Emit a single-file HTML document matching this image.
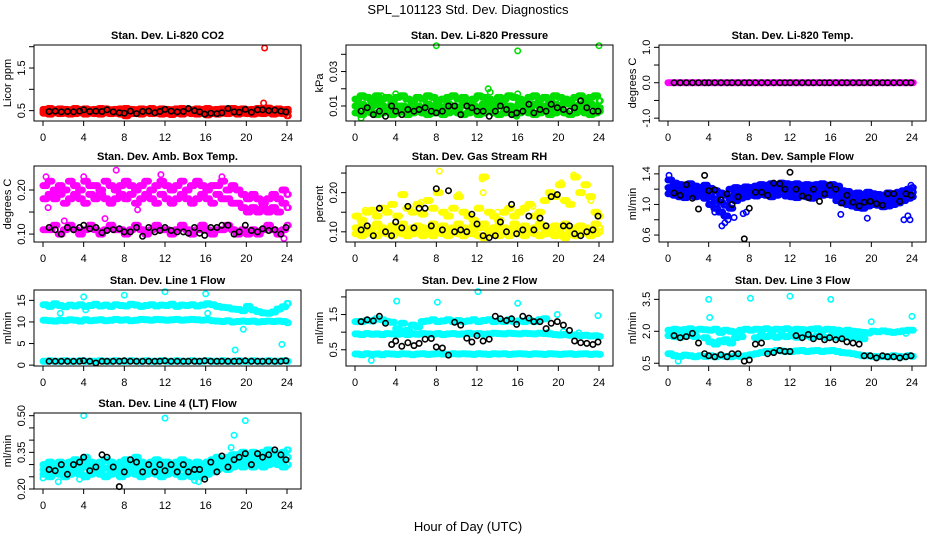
<!DOCTYPE html>
<html><head><meta charset="utf-8"><style>
html,body{margin:0;padding:0;background:#fff;}
svg{display:block;font-family:"Liberation Sans",Arial,sans-serif;}
</style></head><body>
<svg id="chart" width="936" height="540" viewBox="0 0 936 540" xmlns="http://www.w3.org/2000/svg">
<rect width="936" height="540" fill="#fff"/>
<text x="468" y="14" text-anchor="middle" font-size="13">SPL_101123  Std. Dev. Diagnostics</text>
<text x="468" y="531" text-anchor="middle" font-size="13">Hour of Day (UTC)</text>
</svg>
<script>
const T=[0,0.5,1,1.5,2,2.5,3,3.5,4,4.5,5,5.5,6,6.5,7,7.5,8,8.5,9,9.5,10,10.5,11,11.5,12,12.5,13,13.5,14,14.5,15,15.5,16,16.5,17,17.5,18,18.5,19,19.5,20,20.5,21,21.5,22,22.5,23,23.5,24];
const BT=[0.6,1.2,1.8,2.4,3.0,3.6,4.0,4.6,5.2,5.8,6.3,6.9,7.5,8.0,8.6,9.2,9.8,10.4,11.0,11.5,12.0,12.6,13.2,13.8,14.3,14.9,15.4,15.9,16.5,17.1,17.6,18.2,18.8,19.3,19.9,20.5,21.1,21.6,22.2,22.8,23.4,23.9];
const xTicks=[0,4,8,12,16,20,24];

const co2Hi=[0.53,0.55,0.52,0.54,0.53,0.52,0.55,0.53,0.54,0.52,0.53,0.55,0.54,0.52,0.53,0.54,0.55,0.53,0.52,0.54,0.53,0.55,0.52,0.54,0.53,0.52,0.54,0.55,0.53,0.52,0.54,0.53,0.55,0.52,0.53,0.54,0.52,0.55,0.53,0.54,0.52,0.53,0.55,0.54,0.56,0.53,0.54,0.52,0.53];
const co2Mid=[0.48,0.49,0.48,0.47,0.49,0.48,0.47,0.49,0.48,0.48,0.47,0.49,0.48,0.47,0.49,0.48,0.47,0.48,0.49,0.47,0.48,0.49,0.48,0.47,0.48,0.49,0.47,0.48,0.49,0.48,0.47,0.49,0.48,0.47,0.48,0.49,0.48,0.47,0.49,0.48,0.47,0.48,0.49,0.48,0.50,0.48,0.49,0.47,0.48];
const co2Lo=[0.44,0.42,0.45,0.43,0.44,0.42,0.43,0.45,0.42,0.44,0.43,0.42,0.45,0.43,0.44,0.42,0.38,0.43,0.44,0.42,0.45,0.43,0.44,0.42,0.43,0.41,0.44,0.42,0.45,0.43,0.42,0.44,0.40,0.43,0.42,0.44,0.43,0.45,0.42,0.44,0.43,0.42,0.44,0.43,0.45,0.42,0.44,0.43,0.38];
const co2OutX=[21.8,21.7,22.0];
const co2OutY=[1.97,0.68,0.56];
const co2Black=[0.48,0.49,0.47,0.48,0.47,0.49,0.52,0.48,0.49,0.48,0.52,0.47,0.45,0.44,0.49,0.43,0.48,0.49,0.45,0.48,0.53,0.49,0.47,0.48,0.55,0.50,0.47,0.42,0.44,0.43,0.45,0.55,0.47,0.46,0.53,0.46,0.52,0.52,0.50,0.51,0.49,0.47];

const prHi=[0.014,0.016,0.015,0.013,0.016,0.014,0.015,0.013,0.015,0.016,0.014,0.013,0.015,0.014,0.016,0.015,0.013,0.014,0.015,0.016,0.014,0.015,0.013,0.014,0.016,0.015,0.014,0.013,0.015,0.014,0.016,0.015,0.014,0.013,0.015,0.016,0.014,0.015,0.013,0.016,0.015,0.014,0.013,0.015,0.016,0.014,0.015,0.016,0.013];
const prMid=[0.010,0.011,0.009,0.010,0.011,0.010,0.009,0.011,0.010,0.010,0.009,0.011,0.010,0.009,0.011,0.010,0.010,0.009,0.011,0.010,0.009,0.011,0.010,0.010,0.009,0.011,0.010,0.009,0.011,0.010,0.010,0.009,0.011,0.010,0.009,0.011,0.010,0.010,0.009,0.011,0.010,0.012,0.011,0.010,0.011,0.010,0.011,0.010,0.009];
const prLo=[0.006,0.005,0.007,0.006,0.005,0.006,0.007,0.005,0.006,0.007,0.005,0.006,0.007,0.006,0.005,0.006,0.007,0.005,0.006,0.007,0.006,0.005,0.006,0.007,0.005,0.006,0.007,0.006,0.005,0.006,0.007,0.005,0.006,0.007,0.006,0.005,0.006,0.007,0.005,0.006,0.007,0.006,0.005,0.006,0.007,0.006,0.005,0.006,0.007];
const prOutX=[8,16,24,13.1,13.3,4,16,0.6,2.6,15.9];
const prOutY=[0.045,0.042,0.045,0.020,0.018,0.017,0.017,0.003,0.016,0.004];
const prBlack=[0.007,0.009,0.005,0.007,0.004,0.010,0.007,0.005,0.008,0.007,0.008,0.009,0.007,0.006,0.007,0.010,0.010,0.005,0.010,0.009,0.007,0.007,0.004,0.007,0.010,0.008,0.005,0.006,0.007,0.011,0.006,0.008,0.007,0.011,0.009,0.008,0.007,0.009,0.013,0.009,0.007,0.007];

const tpMag=[0,0,0,0,0,0,0,0,0,0,0,0,0,0,0,0,0,0,0,0,0,0,0,0,0,0,0,0,0,0,0,0,0,0,0,0,0,0,0,0,0,0,0,0,0,0,0,0,0];
const tpBlack=[0,0,0,0,0,0,0,0,0,0,0,0,0,0,0,0,0,0,0,0,0,0,0,0,0,0,0,0,0,0,0,0,0,0,0,0,0,0,0,0,0,0];

const abHi=[0.21,0.22,0.20,0.21,0.20,0.22,0.21,0.20,0.22,0.21,0.21,0.20,0.22,0.21,0.20,0.21,0.22,0.21,0.20,0.21,0.22,0.20,0.21,0.22,0.21,0.20,0.21,0.22,0.20,0.21,0.22,0.21,0.20,0.21,0.21,0.22,0.20,0.21,0.20,0.19,0.18,0.19,0.18,0.17,0.18,0.19,0.18,0.20,0.19];
const abMid=[0.18,0.19,0.18,0.19,0.17,0.18,0.19,0.18,0.17,0.19,0.18,0.19,0.18,0.17,0.18,0.19,0.18,0.19,0.17,0.18,0.19,0.18,0.17,0.19,0.18,0.17,0.18,0.19,0.18,0.17,0.18,0.19,0.18,0.17,0.19,0.18,0.18,0.17,0.17,0.16,0.15,0.16,0.15,0.16,0.15,0.16,0.15,0.17,0.16];
const abLo=[0.11,0.11,0.12,0.10,0.11,0.12,0.11,0.10,0.11,0.12,0.11,0.10,0.11,0.12,0.11,0.11,0.10,0.11,0.12,0.11,0.10,0.11,0.12,0.11,0.11,0.10,0.11,0.12,0.11,0.10,0.11,0.12,0.11,0.10,0.11,0.11,0.12,0.11,0.10,0.11,0.10,0.11,0.10,0.11,0.12,0.11,0.10,0.11,0.12];
const abOutX=[0.3,0.5,4.0,11.6,7.2,17.6,23.7,9.3,6.1,2.1];
const abOutY=[0.23,0.16,0.23,0.235,0.245,0.23,0.09,0.155,0.135,0.13];
const abBlack=[0.115,0.11,0.10,0.115,0.11,0.115,0.12,0.112,0.115,0.103,0.108,0.11,0.112,0.105,0.105,0.115,0.095,0.115,0.105,0.108,0.115,0.108,0.105,0.105,0.102,0.115,0.102,0.097,0.115,0.115,0.12,0.12,0.10,0.105,0.12,0.108,0.105,0.112,0.108,0.11,0.10,0.115];

const rhLo=[0.095,0.09,0.10,0.095,0.09,0.1,0.095,0.09,0.1,0.095,0.09,0.095,0.1,0.09,0.095,0.09,0.1,0.095,0.09,0.1,0.095,0.09,0.1,0.095,0.09,0.085,0.095,0.1,0.09,0.095,0.09,0.1,0.095,0.09,0.1,0.095,0.09,0.095,0.1,0.09,0.095,0.085,0.1,0.09,0.095,0.1,0.09,0.095,0.1];
const rhMid=[0.11,0.115,0.105,0.11,0.12,0.11,0.105,0.115,0.11,0.12,0.105,0.11,0.115,0.11,0.105,0.12,0.11,0.115,0.105,0.11,0.12,0.11,0.105,0.115,0.11,0.12,0.105,0.11,0.115,0.11,0.105,0.12,0.11,0.115,0.105,0.11,0.12,0.11,0.105,0.115,0.11,0.12,0.105,0.11,0.115,0.11,0.105,0.12,0.11];
const rhHi=[0.14,0.13,0.15,0.155,0.14,0.16,0.15,0.17,0.14,0.195,0.16,0.15,0.17,0.145,0.18,0.16,0.2,0.15,0.14,0.16,0.19,0.15,0.14,0.13,0.16,0.24,0.15,0.14,0.13,0.15,0.16,0.14,0.15,0.16,0.17,0.14,0.15,0.18,0.2,0.19,0.22,0.18,0.17,0.24,0.2,0.22,0.19,0.15,0.14];
const rhOutX=[8.3,12.5,12.6,21.5,23.2,10.2,4.9,20.3,1.0,3.0,6.5,14.0,17.5];
const rhOutY=[0.255,0.235,0.2,0.245,0.18,0.195,0.195,0.225,0.155,0.16,0.175,0.15,0.165];
const rhBlack=[0.105,0.115,0.09,0.16,0.10,0.09,0.125,0.11,0.165,0.11,0.16,0.16,0.115,0.21,0.105,0.205,0.10,0.105,0.10,0.145,0.12,0.09,0.085,0.09,0.125,0.10,0.17,0.095,0.105,0.14,0.105,0.135,0.115,0.19,0.195,0.115,0.115,0.095,0.09,0.10,0.105,0.14];

const sfHi=[1.32,1.28,1.26,1.25,1.27,1.24,1.22,1.25,1.21,1.18,1.15,1.12,1.20,1.22,1.21,1.23,1.22,1.24,1.26,1.25,1.27,1.26,1.28,1.27,1.26,1.27,1.25,1.26,1.25,1.26,1.27,1.25,1.26,1.24,1.18,1.17,1.14,1.15,1.13,1.16,1.14,1.13,1.12,1.15,1.14,1.16,1.18,1.20,1.22];
const sfMid=[1.22,1.20,1.18,1.17,1.19,1.17,1.16,1.16,1.10,1.07,1.03,0.99,1.07,1.13,1.15,1.16,1.17,1.18,1.19,1.18,1.19,1.19,1.21,1.19,1.18,1.18,1.18,1.18,1.17,1.18,1.19,1.19,1.19,1.14,1.10,1.09,1.06,1.06,1.04,1.07,1.07,1.06,1.05,1.06,1.07,1.09,1.11,1.14,1.16];
const sfLo=[1.14,1.12,1.10,1.09,1.12,1.10,1.11,1.08,1.00,0.95,0.90,0.85,0.95,1.05,1.08,1.10,1.12,1.11,1.13,1.12,1.10,1.12,1.14,1.11,1.10,1.09,1.11,1.10,1.08,1.11,1.12,1.13,1.12,1.05,1.02,1.00,0.98,0.96,0.95,0.98,1.00,0.99,0.97,0.98,1.00,1.02,1.05,1.08,1.10];
const sfOutX=[5.3,5.6,5.9,6.5,7.4,7.7,19.6,23.2,23.6,23.8,17,4.6,23.9,0.1];
const sfOutY=[0.72,0.76,0.80,0.83,0.88,0.90,0.82,0.80,0.85,0.80,0.87,0.90,1.25,1.38];
const sfBlack=[1.15,1.12,1.26,1.08,0.94,1.38,1.18,1.19,1.06,1.14,1.0,1.1,0.55,0.95,1.16,1.16,1.12,1.28,1.27,1.2,1.42,1.2,1.11,1.09,1.2,1.04,1.14,1.25,1.2,1.02,1.12,1.03,0.98,1.03,1.04,1.01,0.99,1.14,1.14,1.04,1.14,1.12];

const l1Hi=[14.0,13.6,14.2,13.8,13.5,13.9,13.7,14.0,13.6,13.8,14.1,13.7,13.9,13.6,14.0,13.8,13.7,14.1,13.9,13.6,13.8,14.0,13.7,13.9,13.8,14.1,13.6,13.9,13.8,14.0,13.7,13.9,14.2,14.0,13.6,13.4,13.3,13.0,12.9,12.6,13.6,12.8,12.4,12.1,12.0,12.3,13.0,13.5,14.3];
const l1Mid=[10.4,10.3,10.2,10.4,10.3,10.5,10.4,10.2,10.5,10.3,10.4,10.5,10.3,10.4,10.6,10.4,10.5,10.3,10.4,10.6,10.5,10.4,10.6,10.5,10.4,10.5,10.6,10.4,10.5,10.6,10.5,10.4,10.5,10.3,10.2,10.1,10.3,10.0,10.1,10.2,10.1,10.2,10.0,10.1,10.2,10.1,10.2,10.1,9.8];
const l1Lo=[0.9,1.0,0.9,0.9,1.0,0.9,0.9,1.0,0.9,0.9,0.9,1.0,0.9,0.9,1.0,0.9,0.9,1.0,0.9,0.9,1.0,0.9,0.9,1.0,0.9,0.9,1.0,0.9,0.9,1.0,0.9,0.9,1.0,0.9,0.9,1.0,0.9,0.9,1.0,0.9,0.9,1.0,0.9,0.9,1.0,0.9,0.9,1.0,0.9];
const l1OutX=[1.7,4,4.2,8,12,16,16.2,18.9,19.7,23.5];
const l1OutY=[12,15.8,12.8,16.2,17,16.5,12,3.5,8.3,4.8];
const l1Black=[0.9,0.9,0.9,0.9,0.9,0.9,1.0,0.9,0.5,0.9,0.9,0.9,0.9,1.0,0.9,0.9,0.9,0.9,0.9,0.9,1.0,0.9,0.9,0.9,0.9,0.9,0.9,1.0,0.9,0.9,0.9,0.9,0.9,0.9,1.0,0.9,0.9,0.9,0.9,0.9,0.9,1.0];

const l2Hi=[1.3,1.3,1.33,1.32,1.38,1.35,1.3,1.28,1.1,1.25,1.05,1.2,1.15,1.3,1.32,1.35,1.3,1.32,1.35,1.3,1.33,1.3,1.32,1.35,1.3,1.33,1.35,1.3,1.32,1.3,1.35,1.3,1.32,1.3,1.33,1.3,1.35,1.38,null,null,null,null,null,null,null,null,null,null,null];
const l2Mid=[0.95,0.93,0.96,0.94,0.95,0.93,0.96,0.95,0.94,0.96,0.93,0.95,0.94,0.96,0.95,0.94,0.96,0.93,0.95,0.96,0.94,0.95,0.97,0.95,0.96,0.94,0.95,0.97,0.96,0.95,0.97,0.96,0.95,0.97,0.96,0.95,0.97,0.96,0.95,0.93,0.92,0.93,0.91,0.92,0.90,0.91,0.89,0.90,0.88];
const l2Lo=[0.38,0.36,0.39,0.37,0.38,0.36,0.39,0.38,0.37,0.39,0.38,0.36,0.38,0.39,0.37,0.38,0.39,0.38,0.37,0.39,0.38,0.39,0.38,0.37,0.39,0.38,0.37,0.39,0.38,0.39,0.37,0.38,0.39,0.38,0.37,0.39,0.38,0.37,0.39,0.38,0.37,0.38,0.39,0.37,0.38,0.39,0.37,0.38,0.37];
const l2OutX=[4.1,8.1,16,19.9,23.9,1.6,12.1,19.0,20.5,22.0];
const l2OutY=[1.88,1.85,1.82,1.5,1.47,0.2,2.15,1.0,1.02,0.98];
const l2Black=[1.3,1.35,1.32,1.45,1.25,0.65,0.75,0.6,0.7,0.62,0.68,0.8,0.82,0.58,0.55,0.35,1.28,1.2,0.83,0.72,0.9,0.75,0.8,1.45,1.38,1.33,1.38,1.22,1.45,1.4,1.3,1.3,1.1,1.25,1.3,1.2,1.05,0.75,0.7,0.68,0.65,0.72];

const l3Hi=[2.05,2.1,2.05,2.08,2.12,2.05,2.1,2.07,2.05,2.1,1.95,2.05,2.0,1.95,2.05,2.1,2.05,2.1,2.08,2.12,2.05,2.1,2.08,2.12,2.05,2.1,2.08,2.05,2.1,2.12,2.05,2.1,2.08,2.05,2.0,2.05,2.0,1.98,1.95,1.92,2.0,1.98,2.02,1.98,1.95,1.98,2.02,2.05,2.05];
const l3Mid=[1.8,1.75,1.72,1.78,1.8,1.75,null,1.7,1.5,1.4,1.55,1.6,1.45,1.7,1.75,null,null,1.7,1.78,1.75,1.8,1.72,1.78,1.75,1.8,1.72,1.75,1.8,1.72,1.78,1.75,1.7,1.78,1.72,1.7,1.75,1.7,1.72,1.65,null,null,null,null,null,null,null,null,null,null];
const l3Lo=[0.95,0.85,0.82,0.88,0.85,0.8,0.85,0.82,0.85,0.8,0.85,0.82,0.8,0.85,0.82,0.85,0.9,0.95,1.0,1.05,1.05,1.1,1.08,1.05,1.05,1.08,1.1,1.05,1.08,1.1,1.05,1.08,1.1,1.05,1.0,0.98,0.95,0.9,0.85,0.85,0.82,0.8,0.82,0.8,0.85,0.82,0.8,0.85,0.82];
const l3OutX=[4,4.1,8.1,12,16,20,24,1,5.5,23.4];
const l3OutY=[3.5,2.65,3.55,3.65,3.5,2.45,2.7,0.6,1.5,1.9];
const l3Black=[1.8,1.7,1.75,1.9,1.45,0.95,0.85,0.8,0.9,0.8,0.95,0.95,0.6,0.65,1.4,1.45,0.95,1.0,1.1,1.05,1.05,1.8,1.7,1.85,1.65,1.75,1.6,1.7,1.6,1.65,1.5,1.45,1.4,0.85,0.85,0.75,0.85,0.8,0.8,0.75,0.8,0.85];

const l4Hi=[0.30,0.31,0.30,0.31,0.30,0.31,0.32,0.31,0.33,0.31,0.30,0.31,0.32,0.31,0.30,0.31,0.32,0.31,0.33,0.31,0.30,0.31,0.32,0.31,0.31,0.30,0.31,0.32,0.31,0.30,0.31,0.30,0.31,0.32,0.33,0.32,0.33,0.34,0.34,0.35,0.34,0.35,0.34,0.35,0.36,0.35,0.34,0.35,0.36];
const l4Mid=[0.28,0.28,0.285,0.285,0.275,0.285,0.295,0.285,0.29,0.285,0.285,0.285,0.285,0.285,0.285,0.28,0.29,0.29,0.295,0.28,0.28,0.29,0.29,0.28,0.285,0.285,0.285,0.285,0.285,0.275,0.285,0.275,0.285,0.295,0.305,0.305,0.305,0.315,0.32,0.32,0.32,0.32,0.32,0.32,0.33,0.33,0.32,0.32,0.33];
const l4Lo=[0.26,0.25,0.27,0.26,0.25,0.26,0.27,0.26,0.25,0.26,0.27,0.26,0.25,0.26,0.27,0.25,0.26,0.27,0.26,0.25,0.26,0.27,0.26,0.25,0.26,0.27,0.26,0.25,0.26,0.25,0.26,0.25,0.26,0.27,0.28,0.29,0.28,0.29,0.30,0.29,0.30,0.29,0.30,0.29,0.30,0.31,0.30,0.29,0.30];
const l4OutX=[4,12,19.9,18.8,18.5,1.5,14.9,15.3,0,3.6];
const l4OutY=[0.5,0.49,0.48,0.42,0.37,0.23,0.235,0.23,0.245,0.24];
const l4Black=[0.28,0.275,0.3,0.26,0.3,0.31,0.33,0.275,0.29,0.34,0.33,0.29,0.21,0.27,0.32,0.31,0.27,0.3,0.27,0.3,0.275,0.3,0.27,0.3,0.27,0.28,0.28,0.24,0.31,0.27,0.335,0.29,0.32,0.33,0.345,0.3,0.345,0.33,0.34,0.36,0.34,0.32];

const NS="http://www.w3.org/2000/svg";
const svg=document.getElementById('chart');
const colL=[34,346,659], rowT=[45,166,290,413], W=267, H=76;
const subOffsets=[0,0.125,0.25,0.375];
function mk(tag,parent){const e=document.createElementNS(NS,tag);parent.appendChild(e);return e;}

const panels=[
 {name:'co2',title:'Stan. Dev. Li-820 CO2',ylab:'Licor ppm',c:0,r:0,ymin:0.257,ymax:2.04,ticks:[0.5,1.0,1.5,2.0],labels:['0.5','','1.5',''],col:'#ff0000',bands:[co2Hi,co2Mid,co2Lo],ox:co2OutX,oy:co2OutY,blk:co2Black},
 {name:'pressure',title:'Stan. Dev. Li-820 Pressure',ylab:'kPa',c:1,r:0,ymin:0.0013,ymax:0.0454,ticks:[0.01,0.02,0.03,0.04],labels:['0.01','','0.03',''],col:'#00dd00',bands:[prHi,prMid,prLo],ox:prOutX,oy:prOutY,blk:prBlack},
 {name:'temp',title:'Stan. Dev. Li-820 Temp.',ylab:'degrees C',c:2,r:0,ymin:-1.08,ymax:1.065,ticks:[-1,-0.5,0,0.5,1],labels:['-1.0','','0.0','','1.0'],col:'#ff00ff',bands:[tpMag],ox:[],oy:[],blk:tpBlack},
 {name:'amb-box-temp',title:'Stan. Dev. Amb. Box Temp.',ylab:'degrees C',c:0,r:1,ymin:0.082,ymax:0.2545,ticks:[0.10,0.15,0.20],labels:['0.10','','0.20'],col:'#ff00ff',bands:[abHi,abMid,abLo],ox:abOutX,oy:abOutY,blk:abBlack},
 {name:'gas-rh',title:'Stan. Dev. Gas Stream RH',ylab:'percent',c:1,r:1,ymin:0.074,ymax:0.268,ticks:[0.10,0.15,0.20,0.25],labels:['0.10','','0.20',''],col:'#ffff00',bands:[rhHi,rhMid,rhLo],ox:rhOutX,oy:rhOutY,blk:rhBlack},
 {name:'sample-flow',title:'Stan. Dev. Sample Flow',ylab:'ml/min',c:2,r:1,ymin:0.509,ymax:1.503,ticks:[0.6,0.8,1.0,1.2,1.4],labels:['0.6','','1.0','','1.4'],col:'#0000ff',bands:[sfHi,sfMid,sfLo],ox:sfOutX,oy:sfOutY,blk:sfBlack},
 {name:'line1-flow',title:'Stan. Dev. Line 1 Flow',ylab:'ml/min',c:0,r:2,ymin:-0.2,ymax:17.4,ticks:[0,5,10,15],labels:['0','5','10','15'],col:'#00ffff',bands:[l1Hi,l1Mid,l1Lo],ox:l1OutX,oy:l1OutY,blk:l1Black},
 {name:'line2-flow',title:'Stan. Dev. Line 2 Flow',ylab:'ml/min',c:1,r:2,ymin:0.04,ymax:2.196,ticks:[0.5,1.0,1.5,2.0],labels:['0.5','','1.5',''],col:'#00ffff',bands:[l2Hi,l2Mid,l2Lo],ox:l2OutX,oy:l2OutY,blk:l2Black},
 {name:'line3-flow',title:'Stan. Dev. Line 3 Flow',ylab:'ml/min',c:2,r:2,ymin:0.37,ymax:3.94,ticks:[0.5,2.0,3.5],labels:['0.5','2.0','3.5'],col:'#00ffff',bands:[l3Hi,l3Mid,l3Lo],ox:l3OutX,oy:l3OutY,blk:l3Black},
 {name:'line4-flow',title:'Stan. Dev. Line 4 (LT) Flow',ylab:'ml/min',c:0,r:3,ymin:0.20,ymax:0.511,ticks:[0.20,0.25,0.30,0.35,0.40,0.45,0.50],labels:['0.20','','','0.35','','','0.50'],col:'#00ffff',bands:[l4Hi,l4Mid,l4Lo],ox:l4OutX,oy:l4OutY,blk:l4Black}
];

panels.forEach(p=>{
  const L=colL[p.c], Tp=rowT[p.r], B=Tp+H;
  const xs=v=>L+9+v*244/24;
  const ys=v=>B-(v-p.ymin)/(p.ymax-p.ymin)*H;
  const g=mk('g',svg);
  
  
  const t=mk('text',g);
  
  
  t.setAttribute('x',L+W/2);t.setAttribute('y',Tp-6);t.setAttribute('text-anchor','middle');
  t.setAttribute('font-size','11');t.setAttribute('font-weight','bold');t.textContent=p.title;
  const yl=mk('text',g);
  
  
  const yc=Tp+H/2;
  yl.setAttribute('transform','translate('+(L-23)+','+yc+') rotate(-90)');
  yl.setAttribute('text-anchor','middle');yl.setAttribute('font-size','11');yl.textContent=p.ylab;
  const pts=mk('g',g);
  
  
  pts.setAttribute('fill','none');pts.setAttribute('stroke-width','1.6');
  function dot(x,y,col,nm){
    if(y===null||y===undefined||x>24.2)return;
    const c=mk('circle',pts);
    
    
    c.setAttribute('cx',xs(x).toFixed(1));c.setAttribute('cy',ys(y).toFixed(1));c.setAttribute('r','2.7');c.setAttribute('stroke',col);
  }
  p.bands.forEach(arr=>arr.forEach((v,i)=>{
    subOffsets.forEach(o=>dot(T[i]+o,v,p.col,p.name+'-point'));
  }));
  p.ox.forEach((x,i)=>dot(x,p.oy[i],p.col,p.name+'-outlier'));
  p.blk.forEach((v,i)=>dot(BT[i],v,'#000',p.name+'-hourly-point'));
  const bx=mk('rect',g);
  
  
  bx.setAttribute('x',L);bx.setAttribute('y',Tp);bx.setAttribute('width',W);bx.setAttribute('height',H);
  bx.setAttribute('fill','none');bx.setAttribute('stroke','#000');bx.setAttribute('stroke-width','1');
  const xa=mk('g',g);
  
  
  const xl=mk('line',xa);
  xl.setAttribute('x1',xs(0));xl.setAttribute('x2',xs(24));xl.setAttribute('y1',B);xl.setAttribute('y2',B);xl.setAttribute('stroke','#000');
  xTicks.forEach(v=>{
    const tk=mk('line',xa);
    
    
    tk.setAttribute('x1',xs(v));tk.setAttribute('x2',xs(v));tk.setAttribute('y1',B);tk.setAttribute('y2',B+5);tk.setAttribute('stroke','#000');
    const tl=mk('text',xa);
    
    
    tl.setAttribute('x',xs(v));tl.setAttribute('y',B+20);tl.setAttribute('text-anchor','middle');tl.setAttribute('font-size','11');tl.textContent=v;
  });
  const ya=mk('g',g);
  
  
  const yline=mk('line',ya);
  yline.setAttribute('x1',L);yline.setAttribute('x2',L);yline.setAttribute('y1',ys(p.ticks[0]));yline.setAttribute('y2',ys(p.ticks[p.ticks.length-1]));yline.setAttribute('stroke','#000');
  p.ticks.forEach((v,i)=>{
    const tk=mk('line',ya);
    
    
    tk.setAttribute('x1',L-5);tk.setAttribute('x2',L);tk.setAttribute('y1',ys(v));tk.setAttribute('y2',ys(v));tk.setAttribute('stroke','#000');
    if(p.labels[i]){
      const tl=mk('text',ya);
      
      
      tl.setAttribute('transform','translate('+(L-9)+','+ys(v)+') rotate(-90)');
      tl.setAttribute('text-anchor','middle');tl.setAttribute('font-size','11');tl.textContent=p.labels[i];
    }
  });
});
</script>
</body></html>
